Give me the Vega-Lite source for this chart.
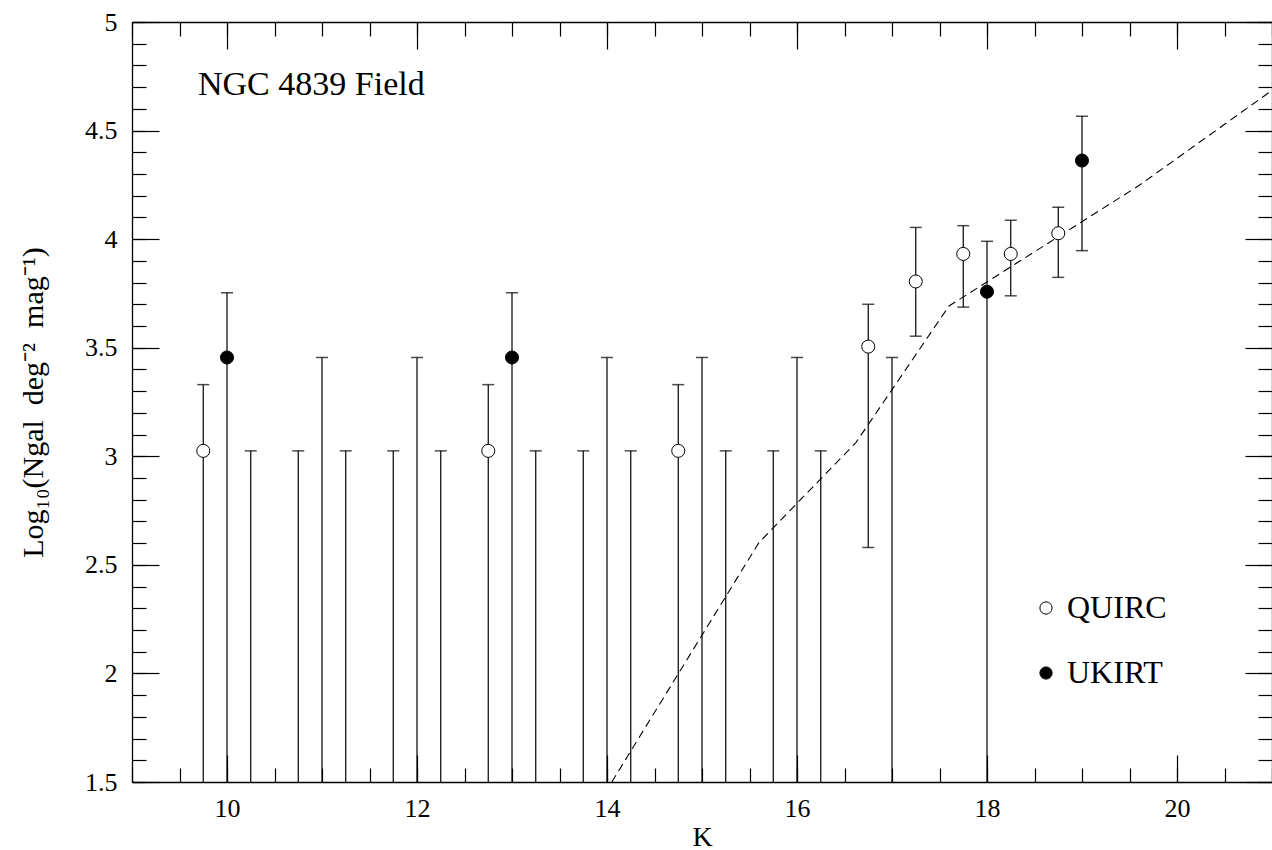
{
  "$schema": "https://vega.github.io/schema/vega-lite/v6.json",
  "autosize": {"type": "none"},
  "padding": {"left": 132, "top": 22, "right": 0, "bottom": 68},
  "width": 1140,
  "height": 760,
  "background": "white",
  "title": {"text": "NGC 4839 Field", "anchor": "start", "frame": "group", "orient": "top", "offset": 0, "dx": 66, "dy": 120, "baseline": "alphabetic", "font": "Liberation Serif", "fontSize": 34, "fontWeight": "normal", "color": "black"},
  "config": {
    "view": {"stroke": null},
    "axis": {"grid": false, "domainColor": "black", "tickColor": "black", "labelColor": "black", "titleColor": "black", "labelFont": "Liberation Serif", "titleFont": "Liberation Serif", "labelFontSize": 26, "titleFontWeight": "normal", "domainWidth": 1.3, "tickWidth": 1.2}
  },
  "datasets": {
    "obs": [
      {"K": 9.75, "survey": "QUIRC", "logN": 3.025, "lo": 1.5, "hi": 3.33, "lowCap": false},
      {"K": 12.75, "survey": "QUIRC", "logN": 3.025, "lo": 1.5, "hi": 3.33, "lowCap": false},
      {"K": 14.75, "survey": "QUIRC", "logN": 3.025, "lo": 1.5, "hi": 3.33, "lowCap": false},
      {"K": 16.75, "survey": "QUIRC", "logN": 3.505, "lo": 2.58, "hi": 3.70, "lowCap": true},
      {"K": 17.25, "survey": "QUIRC", "logN": 3.805, "lo": 3.553, "hi": 4.054, "lowCap": true},
      {"K": 17.75, "survey": "QUIRC", "logN": 3.932, "lo": 3.687, "hi": 4.062, "lowCap": true},
      {"K": 18.25, "survey": "QUIRC", "logN": 3.932, "lo": 3.739, "hi": 4.087, "lowCap": true},
      {"K": 18.75, "survey": "QUIRC", "logN": 4.027, "lo": 3.824, "hi": 4.147, "lowCap": true},
      {"K": 10, "survey": "UKIRT", "logN": 3.455, "lo": 1.5, "hi": 3.753, "lowCap": false},
      {"K": 13, "survey": "UKIRT", "logN": 3.455, "lo": 1.5, "hi": 3.753, "lowCap": false},
      {"K": 18, "survey": "UKIRT", "logN": 3.758, "lo": 1.5, "hi": 3.99, "lowCap": false},
      {"K": 19, "survey": "UKIRT", "logN": 4.362, "lo": 3.947, "hi": 4.566, "lowCap": true},
      {"K": 10.25, "survey": "QUIRC", "lo": 1.5, "hi": 3.025, "lowCap": false},
      {"K": 10.75, "survey": "QUIRC", "lo": 1.5, "hi": 3.025, "lowCap": false},
      {"K": 11.25, "survey": "QUIRC", "lo": 1.5, "hi": 3.025, "lowCap": false},
      {"K": 11.75, "survey": "QUIRC", "lo": 1.5, "hi": 3.025, "lowCap": false},
      {"K": 12.25, "survey": "QUIRC", "lo": 1.5, "hi": 3.025, "lowCap": false},
      {"K": 13.25, "survey": "QUIRC", "lo": 1.5, "hi": 3.025, "lowCap": false},
      {"K": 13.75, "survey": "QUIRC", "lo": 1.5, "hi": 3.025, "lowCap": false},
      {"K": 14.25, "survey": "QUIRC", "lo": 1.5, "hi": 3.025, "lowCap": false},
      {"K": 15.25, "survey": "QUIRC", "lo": 1.5, "hi": 3.025, "lowCap": false},
      {"K": 15.75, "survey": "QUIRC", "lo": 1.5, "hi": 3.025, "lowCap": false},
      {"K": 16.25, "survey": "QUIRC", "lo": 1.5, "hi": 3.025, "lowCap": false},
      {"K": 11, "survey": "UKIRT", "lo": 1.5, "hi": 3.455, "lowCap": false},
      {"K": 12, "survey": "UKIRT", "lo": 1.5, "hi": 3.455, "lowCap": false},
      {"K": 14, "survey": "UKIRT", "lo": 1.5, "hi": 3.455, "lowCap": false},
      {"K": 15, "survey": "UKIRT", "lo": 1.5, "hi": 3.455, "lowCap": false},
      {"K": 16, "survey": "UKIRT", "lo": 1.5, "hi": 3.455, "lowCap": false},
      {"K": 17, "survey": "UKIRT", "lo": 1.5, "hi": 3.455, "lowCap": false}
    ],
    "model": [
      {"K": 14.05, "logN": 1.5},
      {"K": 15.6, "logN": 2.603},
      {"K": 16.62, "logN": 3.063},
      {"K": 17.6, "logN": 3.692},
      {"K": 19.6, "logN": 4.247},
      {"K": 21.0, "logN": 4.685}
    ]
  },
  "resolve": {"axis": {"x": "independent", "y": "independent"}},
  "layer": [
    {
      "data": {"name": "obs"},
      "mark": {"type": "rule", "color": "black", "strokeWidth": 1.2},
      "encoding": {
        "x": {"field": "K", "type": "quantitative", "scale": {"domain": [9, 21], "nice": false, "zero": false},
              "axis": {"orient": "bottom", "values": [10, 12, 14, 16, 18, 20], "ticks": false, "domain": true, "labelPadding": 13, "title": "K", "titleFontSize": 28, "titlePadding": 2}},
        "y": {"field": "lo", "type": "quantitative", "scale": {"domain": [1.5, 5], "nice": false, "zero": false},
              "axis": {"orient": "left", "values": [1.5, 2, 2.5, 3, 3.5, 4, 4.5, 5], "format": "~g", "ticks": false, "domain": true, "labelPadding": 15, "title": "Log₁₀(Ngal\u00a0\u00a0deg⁻²\u00a0\u00a0mag⁻¹)", "titleFontSize": 30, "titlePadding": 36}},
        "y2": {"field": "hi"}
      }
    },
    {
      "data": {"name": "obs"},
      "mark": {"type": "tick", "orient": "horizontal", "color": "black", "size": 12, "thickness": 1.5},
      "encoding": {
        "x": {"field": "K", "type": "quantitative", "axis": {"orient": "bottom", "values": [10, 12, 14, 16, 18, 20], "tickSize": -27, "labels": false, "domain": false, "title": null}},
        "y": {"field": "hi", "type": "quantitative", "axis": {"orient": "left", "values": [1.5, 2, 2.5, 3, 3.5, 4, 4.5, 5], "tickSize": -27, "labels": false, "domain": false, "title": null}}
      }
    },
    {
      "data": {"name": "obs"},
      "transform": [{"filter": "datum.lowCap"}],
      "mark": {"type": "tick", "orient": "horizontal", "color": "black", "size": 12, "thickness": 1.5},
      "encoding": {
        "x": {"field": "K", "type": "quantitative", "axis": {"orient": "bottom", "values": [9, 9.5, 10, 10.5, 11, 11.5, 12, 12.5, 13, 13.5, 14, 14.5, 15, 15.5, 16, 16.5, 17, 17.5, 18, 18.5, 19, 19.5, 20, 20.5, 21], "tickSize": -14, "labels": false, "domain": false, "title": null}},
        "y": {"field": "lo", "type": "quantitative", "axis": {"orient": "left", "values": [1.5, 1.6, 1.7, 1.8, 1.9, 2, 2.1, 2.2, 2.3, 2.4, 2.5, 2.6, 2.7, 2.8, 2.9, 3, 3.1, 3.2, 3.3, 3.4, 3.5, 3.6, 3.7, 3.8, 3.9, 4, 4.1, 4.2, 4.3, 4.4, 4.5, 4.6, 4.7, 4.8, 4.9, 5], "tickSize": -14, "labels": false, "domain": false, "title": null}}
      }
    },
    {
      "data": {"name": "model"},
      "mark": {"type": "line", "color": "black", "strokeWidth": 1.1, "strokeDash": [8, 5], "clip": true},
      "encoding": {
        "x": {"field": "K", "type": "quantitative", "axis": {"orient": "top", "values": [10, 12, 14, 16, 18, 20], "tickSize": -27, "labels": false, "domain": true, "title": null}},
        "y": {"field": "logN", "type": "quantitative", "axis": {"orient": "right", "values": [1.5, 2, 2.5, 3, 3.5, 4, 4.5, 5], "tickSize": -27, "labels": false, "domain": true, "title": null}}
      }
    },
    {
      "data": {"name": "obs"},
      "transform": [{"filter": "isValid(datum.logN)"}],
      "mark": {"type": "point", "shape": "circle", "filled": true, "size": 170, "stroke": "black", "strokeWidth": 1, "opacity": 1},
      "encoding": {
        "x": {"field": "K", "type": "quantitative", "axis": {"orient": "top", "values": [9, 9.5, 10, 10.5, 11, 11.5, 12, 12.5, 13, 13.5, 14, 14.5, 15, 15.5, 16, 16.5, 17, 17.5, 18, 18.5, 19, 19.5, 20, 20.5, 21], "tickSize": -14, "labels": false, "domain": false, "title": null}},
        "y": {"field": "logN", "type": "quantitative", "axis": {"orient": "right", "values": [1.5, 1.6, 1.7, 1.8, 1.9, 2, 2.1, 2.2, 2.3, 2.4, 2.5, 2.6, 2.7, 2.8, 2.9, 3, 3.1, 3.2, 3.3, 3.4, 3.5, 3.6, 3.7, 3.8, 3.9, 4, 4.1, 4.2, 4.3, 4.4, 4.5, 4.6, 4.7, 4.8, 4.9, 5], "tickSize": -14, "labels": false, "domain": false, "title": null}},
        "fill": {"field": "survey", "type": "nominal", "scale": {"domain": ["QUIRC", "UKIRT"], "range": ["white", "black"]},
                 "legend": {"title": null, "orient": "none", "legendX": 898, "legendY": 570, "padding": 0, "symbolType": "circle", "symbolSize": 150, "symbolStrokeColor": "black", "symbolStrokeWidth": 1, "symbolOpacity": 1, "labelFont": "Liberation Serif", "labelFontSize": 32, "labelColor": "black", "labelOffset": 5, "rowPadding": 33}}
      }
    }
  ]
}
